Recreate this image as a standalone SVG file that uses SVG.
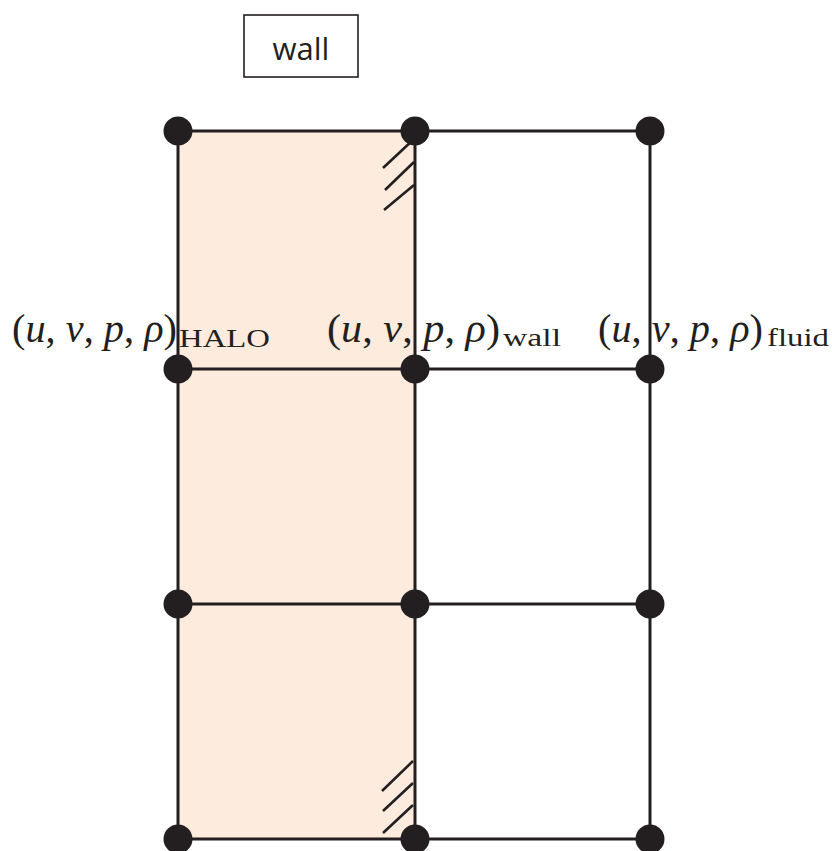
<svg xmlns="http://www.w3.org/2000/svg" width="832" height="851" viewBox="0 0 832 851">
<style>
.grid{stroke:#231f20;stroke-width:3;fill:none}
.hatch{stroke:#231f20;stroke-width:2.6;fill:none}
.dot{fill:#231f20}
.m{font-family:"Liberation Serif","DejaVu Serif",serif;font-size:41px;fill:#231f20}
.i{font-style:italic}
.sub{font-family:"Liberation Serif","DejaVu Serif",serif;font-size:26px;fill:#231f20}
.lbl{font-family:"Open Sans","Liberation Sans",sans-serif;font-size:31px;fill:#231f20}
</style>
<rect x="178" y="131" width="237" height="708" fill="#fdecdd"/>
<g id="connectors">
<line class="grid" x1="178" y1="131" x2="650" y2="131"/>
<line class="grid" x1="178" y1="369" x2="650" y2="369"/>
<line class="grid" x1="178" y1="604" x2="650" y2="604"/>
<line class="grid" x1="178" y1="839" x2="650" y2="839"/>
<line class="grid" x1="178" y1="131" x2="178" y2="839"/>
<line class="grid" x1="415" y1="131" x2="415" y2="839"/>
<line class="grid" x1="650" y1="131" x2="650" y2="839"/>
</g>
<g id="hatch-top">
<line class="hatch" x1="414" y1="139" x2="383" y2="168"/>
<line class="hatch" x1="414" y1="162" x2="385" y2="190"/>
<line class="hatch" x1="414" y1="185" x2="384" y2="210"/>
</g>
<g id="hatch-bottom">
<line class="hatch" x1="413" y1="761" x2="382" y2="791"/>
<line class="hatch" x1="413" y1="783" x2="383" y2="811"/>
<line class="hatch" x1="413" y1="805" x2="383" y2="833"/>
</g>
<g id="wall-label">
<rect x="244" y="15" width="114" height="62" fill="#fff" stroke="#231f20" stroke-width="1.6"/>
<text class="lbl" x="301" y="60" text-anchor="middle">wall</text>
</g>
<g id="n-00"><circle class="dot" cx="178" cy="131" r="14.5"/></g>
<g id="n-10"><circle class="dot" cx="415" cy="131" r="14.5"/></g>
<g id="n-20"><circle class="dot" cx="650" cy="131" r="14.5"/></g>
<g id="n-01"><circle class="dot" cx="178" cy="369" r="14.5"/></g>
<g id="n-11"><circle class="dot" cx="415" cy="369" r="14.5"/></g>
<g id="n-21"><circle class="dot" cx="650" cy="369" r="14.5"/></g>
<g id="n-02"><circle class="dot" cx="178" cy="604" r="14.5"/></g>
<g id="n-12"><circle class="dot" cx="415" cy="604" r="14.5"/></g>
<g id="n-22"><circle class="dot" cx="650" cy="604" r="14.5"/></g>
<g id="n-03"><circle class="dot" cx="178" cy="839" r="14.5"/></g>
<g id="n-13"><circle class="dot" cx="415" cy="839" r="14.5"/></g>
<g id="n-23"><circle class="dot" cx="650" cy="839" r="14.5"/></g>
<g id="label-halo">
<text class="m" x="12" y="342" textLength="165" lengthAdjust="spacingAndGlyphs">(<tspan class="i">u</tspan>, <tspan class="i">v</tspan>, <tspan class="i">p</tspan>, <tspan class="i">ρ</tspan>)</text>
<text class="sub" x="179" y="347" textLength="91" lengthAdjust="spacingAndGlyphs">HALO</text>
</g>
<g id="label-wall">
<text class="m" x="327" y="342" textLength="173" lengthAdjust="spacingAndGlyphs">(<tspan class="i">u</tspan>, <tspan class="i">v</tspan>, <tspan class="i">p</tspan>, <tspan class="i">ρ</tspan>)</text>
<text class="sub" x="503" y="346" textLength="58" lengthAdjust="spacingAndGlyphs">wall</text>
</g>
<g id="label-fluid">
<text class="m" x="598" y="342" textLength="165" lengthAdjust="spacingAndGlyphs">(<tspan class="i">u</tspan>, <tspan class="i">v</tspan>, <tspan class="i">p</tspan>, <tspan class="i">ρ</tspan>)</text>
<text class="sub" x="767" y="346" textLength="62" lengthAdjust="spacingAndGlyphs">fluid</text>
</g>
</svg>
